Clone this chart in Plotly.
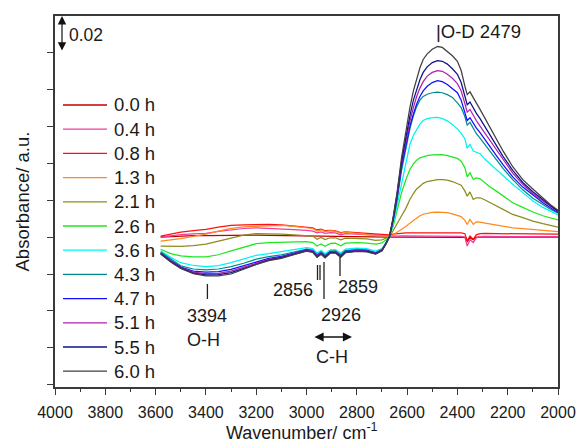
import plotly.graph_objects as go

# wavenumber grid (cm-1)
wavenumber = [3580, 3540, 3500, 3450, 3400, 3350, 3300, 3250, 3200, 3150, 3100, 3050,
              3000, 2975, 2958, 2942, 2926, 2905, 2885, 2864, 2845, 2800, 2760, 2725, 2700, 2685,
              2670,
              2655, 2640, 2622, 2605, 2589, 2575, 2562, 2549, 2536, 2520, 2500, 2479, 2460, 2440,
              2420, 2400, 2385, 2370, 2361, 2350, 2337, 2325, 2310, 2290, 2270, 2245, 2218, 2180,
              2140, 2100, 2060, 2030, 2000]

labels = ["0.0 h", "0.4 h", "0.8 h", "1.3 h", "2.1 h", "2.6 h", "3.6 h",
          "4.3 h", "4.7 h", "5.1 h", "5.5 h", "6.0 h"]
colors = ["#C00000", "#F03C9C", "#FF1010", "#FF8A1C", "#8C8C1E", "#1EE81E", "#00F4F4",
          "#008C8C", "#1010FF", "#B020B0", "#10108C", "#404040"]

# absorbance values in milli-absorbance units
abs_0_0h = [0, 0.3, 0.5, 0.7, 0.8, 0.9, 1.0, 1.0, 1.0, 0.9, 0.8, 0.7,
            0.6, 0.5, 0.2, 0.4, 0.2, 0.3, 0.3, 0.1, 0.2, 0.2, 0.1, 0.0, 0.0, 0.0,
            0.0,
            0, 0, 0, 0, 0, 0, 0, 0, 0, 0, 0, 0, 0, 0, 0, 0, 0,
            -0.2, -2.5, -0.5, -1.5, 0,
            0, 0, 0, 0, 0, 0, 0, 0, 0, 0, 0]
abs_0_4h = [0, 0.8, 1.3, 1.7, 2.0, 3.0, 4.0, 4.6, 5.0, 4.8, 4.4, 4.0,
            3.6, 3.2, 2.2, 2.8, 2.0, 2.4, 2.2, 1.2, 1.8, 1.5, 1.2, 0.9, 0.7, 0.5,
            0.5,
            0.5, 0.5, 0.6, 0.6, 0.6, 0.6, 0.6, 0.6, 0.6, 0.6, 0.6, 0.6, 0.6, 0.5, 0.5, 0.5, 0.4,
            0.0, -4.9, -1.5, -3.0, -0.5,
            0.2, 0.3, 0.3, 0.3, 0.3, 0.3, 0.3, 0.2, 0.2, 0.2, 0.2]
abs_0_8h = [0.5, 1.6, 2.7, 3.4, 4.1, 5.3, 6.3, 6.6, 6.8, 6.8, 6.5, 6.0,
            5.4, 5.0, 3.8, 4.3, 3.4, 3.6, 3.3, 2.4, 2.8, 2.3, 1.9, 1.6, 1.5, 1.2,
            1.2,
            1.6, 1.9, 2.1, 2.2, 2.3, 2.3, 2.3, 2.3, 2.4, 2.4, 2.4, 2.4, 2.3, 2.3, 2.3, 2.3, 2.2,
            1.8, -2.0, 0.5, -1.2, 1.2,
            1.8, 1.9, 1.9, 1.8, 1.8, 1.7, 1.7, 1.6, 1.6, 1.5, 1.5]
abs_1_3h = [-2.2, -1.6, -0.9, 0.3, 1.5, 3.2, 4.7, 5.5, 5.9, 6.2, 6.3, 5.7,
            5.0, 4.6, 3.2, 3.9, 2.9, 3.4, 3.1, 2.0, 2.6, 1.8, 1.2, 0.8, 0.7, 0.4,
            0.3,
            1.2, 2.5, 4.1, 5.7, 7.5, 9, 10.3, 11.5, 12.3, 12.9, 13.3, 13.5, 13.4, 13.2, 12.5, 11.8, 11,
            9, 6.8, 9.5, 6.8, 8.2,
            8.1, 7.5, 7, 6.5, 5.9, 5, 4.5, 4, 3.6, 3.2, 2.9]
abs_2_1h = [-4.9, -5.0, -5.0, -4.7, -3.8, -2.2, -0.5, 1.0, 1.8, 1.8, 1.6, 1.2,
            0.9, 0.5, -1.2, -0.2, -1.4, -0.4, -0.4, -1.5, -0.6, -0.7, -1.0, -1.8, -1.5, -0.7,
            0.3,
            3.5, 7.5, 11.5, 15.5, 20.3, 23.5, 26, 27.5, 29, 30, 30.6, 31, 31, 30.8, 30, 29, 28,
            24.8, 22.1, 24.4, 20.3, 21.2,
            21.2, 20, 18.5, 16.7, 14.8, 12.2, 10.5, 8.6, 7.2, 6.2, 5.4]
abs_2_6h = [-6.6, -9, -10.2, -10.8, -10.8, -9.6, -7.5, -5.5, -3.6, -3.1, -2.9, -2.7,
            -2.5, -3.0, -4.9, -3.7, -5.0, -3.5, -3.3, -4.8, -3.3, -3.1, -3.3, -3.9, -3.2, -1.6,
            0.3,
            6, 14, 24, 31, 36.5, 39.5, 41.5, 42.8, 43.5, 44, 44.4, 44.6, 44.5, 44, 43.3, 42.5, 41,
            37.4, 32.5, 34.7, 31.1, 32,
            31.5, 29, 27, 24.8, 22, 18.5, 16, 13.5, 11.5, 10.3, 9.2]
abs_3_6h = [-7.5, -11, -13.9, -15.4, -16, -15.5, -13.9, -12, -9.9, -9, -8, -6.9,
            -5.8, -6.3, -8.7, -7.3, -9.0, -6.9, -6.8, -8.7, -6.6, -6.0, -6.3, -7.6, -6.2, -3.2,
            0.3,
            7.5, 17, 30, 41, 50, 55, 58, 61, 63, 64, 64.6, 64.7, 64, 62.8, 60.8, 58.5, 56,
            53, 48, 50, 46.5, 46,
            45, 42, 39.5, 36.5, 33, 28.5, 24, 19.5, 16, 13.8, 12]
abs_4_3h = [-8.1, -12, -15.6, -17.3, -17.8, -17.3, -16, -14.2, -12, -10.6, -9.6, -8.1,
            -6.5, -7.1, -9.5, -8.0, -9.8, -7.6, -7.5, -9.5, -7.3, -6.7, -7.0, -8.4, -6.7, -3.5,
            0.3,
            9, 20, 36, 48.5, 58.5, 65.5, 70.5, 74, 76, 77.2, 78, 78.3, 78, 77, 75.5, 72.5, 70,
            65, 60.5, 62, 58.5, 56,
            53.5, 50, 46.5, 42, 37, 31, 25.5, 21, 17.5, 15, 13]
abs_4_7h = [-8.6, -12.7, -16.2, -18.4, -19, -18.7, -17.5, -15.5, -13.3, -11.6, -10.5, -8.8,
            -7.0, -7.6, -10.1, -8.6, -10.4, -8.0, -8.0, -10.1, -7.8, -7.2, -7.4, -8.7, -7.0, -3.7,
            0.3,
            9.5, 21, 38, 50, 60, 66.5, 72, 76, 79, 81.5, 83.5, 84.5, 84, 82.5, 80.5, 78, 74,
            67.5, 63, 64.5, 61.5, 59,
            56.5, 52.5, 48.8, 44, 39, 32.5, 27, 22.5, 18.5, 15.8, 13.3]
abs_5_1h = [-8.8, -13, -16.5, -19, -19.8, -19.6, -18.5, -16.3, -13.9, -12.1, -10.9, -9.1,
            -7.2, -7.8, -10.4, -8.8, -10.7, -8.3, -8.2, -10.4, -8.1, -7.4, -7.6, -8.9, -7.2, -3.8,
            0.3,
            10, 22, 39.5, 52, 62.5, 70, 76, 80.5, 84, 87, 89, 90, 89.6, 88, 85.8, 83, 79,
            72, 67.5, 69, 65.5, 63,
            60, 56, 52, 47, 41.5, 34.5, 28.5, 23.5, 19.5, 16.5, 13.8]
abs_5_5h = [-9.0, -13.3, -16.8, -19.5, -20.5, -20.4, -19.3, -17, -14.4, -12.5, -11.2, -9.3,
            -7.5, -8.1, -10.7, -9.1, -11, -8.5, -8.5, -10.7, -8.3, -7.6, -7.8, -9.1, -7.4, -3.9,
            0.3,
            10.5, 23, 41, 54, 65.5, 74, 80, 85, 89, 92, 94.3, 95.4, 95, 93.5, 91, 88, 83.5,
            76, 71.5, 73, 69.5, 67,
            64, 59.5, 55, 49.5, 43.5, 36, 29.5, 24.5, 20, 17, 14]
abs_6_0h = [-9.2, -13.5, -17, -19.8, -21, -21, -20, -17.5, -14.8, -12.8, -11.5, -9.5,
            -7.7, -8.3, -11, -9.3, -11.3, -8.7, -8.7, -11, -8.5, -7.8, -8, -9.2, -7.5, -4,
            0.3,
            11, 24, 43, 57, 70, 79, 86, 91.5, 96, 99, 101.5, 103, 102.5, 100.5, 98, 95, 90,
            81.4, 77, 78.5, 75, 72.5,
            69, 64, 59, 53, 46.4, 38, 31, 26, 21, 17.5, 14.5]

series = [abs_0_0h, abs_0_4h, abs_0_8h, abs_1_3h, abs_2_1h, abs_2_6h, abs_3_6h,
          abs_4_3h, abs_4_7h, abs_5_1h, abs_5_5h, abs_6_0h]
for s in series:
    assert len(s) == len(wavenumber), len(s)

FONT = "Arial, Liberation Sans, sans-serif"
TXT = "#1a1a1a"
fig = go.Figure()
for lab, col, vals in zip(labels, colors, series):
    fig.add_trace(go.Scatter(x=wavenumber, y=[v / 1000 for v in vals], mode="lines",
                             name=lab, line=dict(color=col, width=1.25), showlegend=False))

axis_col = "#3a3a3a"
fig.update_layout(
    width=577, height=444,
    margin=dict(l=55, r=19, t=16, b=57, autoexpand=False),
    paper_bgcolor="white", plot_bgcolor="white",
    font=dict(family=FONT, color=TXT),
    showlegend=False,
    xaxis=dict(range=[4000, 2000], dtick=200, tick0=2000, ticks="outside", ticklen=6,
               tickwidth=1.2, tickcolor=axis_col, showline=True, linecolor=axis_col,
               linewidth=1.5, mirror=True, showgrid=False, zeroline=False, automargin=False,
               tickfont=dict(size=16, family=FONT), ticklabelstandoff=4,
               minor=dict(dtick=100, ticks="outside", ticklen=3.5, tickcolor=axis_col,
                          tickwidth=1.2, showgrid=False),
               title=dict(text="")),
    yaxis=dict(range=[-0.0811, 0.1195], dtick=0.02, tick0=0, ticks="outside", ticklen=6,
               tickwidth=1.2, tickcolor=axis_col, showline=True, linecolor=axis_col,
               linewidth=1.5, mirror=True, showgrid=False, zeroline=False, automargin=False,
               showticklabels=False, title=dict(text="")),
)

# page-pixel helpers (plot area spans x 55..558, y 16..387)
def px2wn(px):
    return 4000 - (px - 55) * 2000 / 503

def px2paper(px):
    return (px - 55) / 503

def py2paper(py):
    return (387 - py) / 371

def text(x, y, s, size=18, xref="x", xanchor="center"):
    fig.add_annotation(x=x, y=y, xref=xref, yref="paper", text=s, showarrow=False,
                       xanchor=xanchor, yanchor="middle",
                       font=dict(size=size, family=FONT, color=TXT))

# axis titles
fig.add_annotation(x=px2paper(22), y=0.5, xref="paper", yref="paper", text="Absorbance/ a.u.",
                   textangle=-90, showarrow=False, xanchor="center", yanchor="middle",
                   font=dict(size=18.5, family=FONT, color=TXT))
text(px2paper(302), py2paper(431), "Wavenumber/ cm<sup>-1</sup>", size=18, xref="paper")

# legend drawn as line samples + labels
for i, (lab, col) in enumerate(zip(labels, colors)):
    yc = py2paper(105 + 24.2 * i)
    fig.add_shape(type="line", x0=px2paper(63), x1=px2paper(107), y0=yc, y1=yc,
                  xref="paper", yref="paper", line=dict(color=col, width=1.3))
    text(px2paper(112), yc, lab, size=18.5, xref="paper", xanchor="left")

# scale bar
fig.add_annotation(x=px2wn(62), y=0.1195, ax=px2wn(62), ay=0.1, xref="x", yref="y",
                   axref="x", ayref="y", text="", showarrow=True, arrowhead=2,
                   arrowside="end+start", arrowsize=1.4, arrowwidth=1.2, arrowcolor="#111")
text(px2wn(67), py2paper(35), "0.02", size=17.5, xanchor="left")
# O-D label
text(px2wn(434), py2paper(32), "|O-D 2479", size=18.5, xanchor="left")
# O-H
fig.add_shape(type="line", x0=3394, x1=3394, y0=py2paper(284), y1=py2paper(299),
              xref="x", yref="paper", line=dict(color="#222", width=1.3))
text(px2wn(207), py2paper(316), "3394")
text(px2wn(203), py2paper(340), "O-H")
# C-H markers
for xp, y0, y1 in [(317.5, 265, 280), (320, 265, 280), (324, 262, 299), (340, 257, 276)]:
    fig.add_shape(type="line", x0=px2wn(xp), x1=px2wn(xp), y0=py2paper(y0), y1=py2paper(y1),
                  xref="x", yref="paper", line=dict(color="#222", width=1.3))
text(px2wn(293), py2paper(290), "2856")
text(px2wn(341), py2paper(315), "2926")
text(px2wn(358), py2paper(287), "2859")
fig.add_annotation(x=px2wn(352), y=py2paper(337), ax=px2wn(313), ay=0,
                   xref="x", yref="paper", axref="x", ayref="pixel", text="",
                   showarrow=True, arrowhead=2, arrowside="end+start", arrowsize=1.4,
                   arrowwidth=1.3, arrowcolor="#111")
text(px2wn(332), py2paper(357), "C-H")

# remove the default 8 px page margin so the 577x444 figure fills the window
fig.write_html("out.html", config={"displayModeBar": False},
               post_script="document.body.style.margin='0px';"
                           "document.body.style.overflow='hidden';")
